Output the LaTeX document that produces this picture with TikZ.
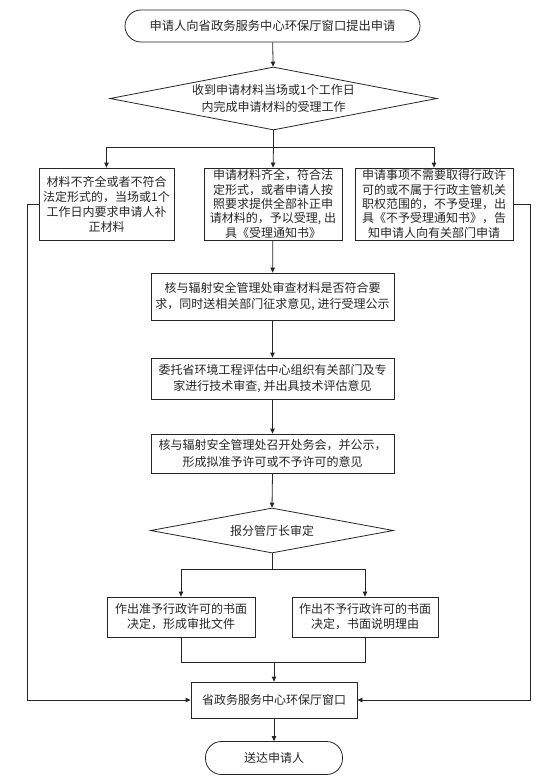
\documentclass[tikz,border=0pt]{standalone}
\usepackage{fontspec}
\setmainfont{Noto Sans CJK SC}
\usetikzlibrary{arrows.meta,shapes.geometric}
\begin{document}
\begin{tikzpicture}[x=1pt,y=-1pt,
  every node/.style={font=\fontsize{12}{15}\selectfont, text=black!85},
  line/.style={draw=black!85, line width=0.8pt},
  arr/.style={line, -{Triangle[width=4.5pt,length=5pt]}},
  boxn/.style={line, rectangle, inner sep=0.5pt, align=center},
  term/.style={line, rectangle, rounded corners=16pt, inner sep=1pt, align=center},
  dia/.style={line, diamond, inner sep=0pt, align=center},
  wide/.style={font=\fontsize{12}{16.5}\selectfont},
  tight/.style={font=\fontsize{12}{14.4}\selectfont}
]
\useasboundingbox (0,0) rectangle (551,781);
\node[term, minimum width=295pt, minimum height=32pt, font=\fontsize{12.3}{15}\selectfont] (start) at (272.5,26) {申请人向省政务服务中心环保厅窗口提出申请};
\node[dia, wide, aspect=5.19, minimum width=327pt, minimum height=63pt] (d1) at (273.5,98.5) {收到申请材料当场或1个工作日\\内完成申请材料的受理工作};
\node[boxn, minimum width=135pt, minimum height=72pt] (b1) at (106.5,204) {材料不齐全或者不符合\\法定形式的，当场或1个\\工作日内要求申请人补\\正材料};
\node[boxn, tight, minimum width=138pt, minimum height=72pt] (b2) at (273,204) {申请材料齐全，符合法\\定形式，或者申请人按\\照要求提供全部补正申\\请材料的，予以受理, 出\\具《受理通知书》};
\node[boxn, tight, minimum width=158pt, minimum height=72pt] (b3) at (434,204) {申请事项不需要取得行政许\\可的或不属于行政主管机关\\职权范围的，不予受理，出\\具《不予受理通知书》，告\\知申请人向有关部门申请};
\node[boxn, wide, minimum width=243pt, minimum height=47pt] (b4) at (272.5,296.5) {核与辐射安全管理处审查材料是否符合要\\求，同时送相关部门征求意见, 进行受理公示};
\node[boxn, wide, minimum width=243pt, minimum height=41pt] (b5) at (272.5,378.5) {委托省环境工程评估中心组织有关部门及专\\家进行技术审查, 并出具技术评估意见};
\node[boxn, wide, minimum width=243pt, minimum height=39pt] (b6) at (272.5,453.5) {核与辐射安全管理处召开处务会，并公示，\\形成拟准予许可或不予许可的意见};
\node[dia, aspect=5.4, minimum width=243pt, minimum height=45pt] (d2) at (272,530.5) {报分管厅长审定};
\node[boxn, minimum width=148pt, minimum height=40pt] (b7) at (181,617) {作出准予行政许可的书面\\决定，形成审批文件};
\node[boxn, minimum width=146pt, minimum height=40pt] (b8) at (365,617) {作出不予行政许可的书面\\决定，书面说明理由};
\node[boxn, minimum width=166pt, minimum height=36pt] (win) at (274,700) {省政务服务中心环保厅窗口};
\node[term, minimum width=137pt, minimum height=33pt] (end) at (274,758) {送达申请人};

\coordinate (s1) at (273.5,147);
\coordinate (s2) at (272,569);
\coordinate (m) at (274,662);
\coordinate (L) at (27,0);
\coordinate (R) at (530,0);

\draw[arr] (start) -- (d1);
\draw[line] (d1.south) -- (s1);
\draw[arr] (s1) -| (b1.north);
\draw[arr] (s1) -| (b3.north);
\draw[arr] (s1) -- (b2.north);
\draw[arr] (b2) -- (b4);
\draw[arr] (b4) -- (b5);
\draw[arr] (b5) -- (b6);
\draw[arr] (b6.south) -- (d2.north);
\draw[line] (d2.south) -- (s2);
\draw[arr] (s2) -| (b7.north);
\draw[arr] (s2) -| (b8.north);
\draw[line] (b7.south) -- (b7.south |- m) -- (b8.south |- m) -- (b8.south);
\draw[arr] (m) -- (win.north);
\draw[arr] (b1.west) -- (b1.west -| L) |- (win.west);
\draw[arr] (b3.east) -- (b3.east -| R) |- (win.east);
\draw[arr] (win) -- (end);
\end{tikzpicture}
\end{document}
